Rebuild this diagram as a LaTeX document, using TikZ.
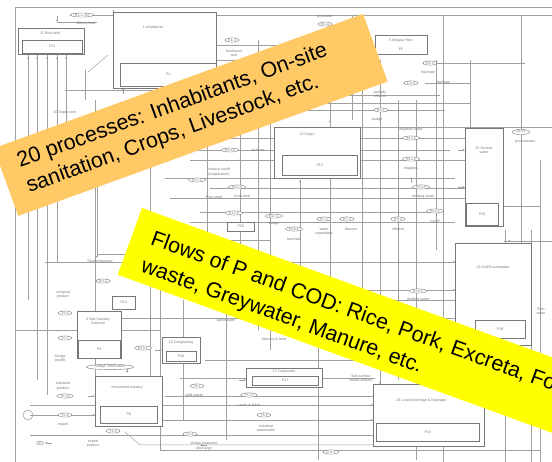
\documentclass[tikz,border=0pt]{standalone}
\usepackage{fontspec}
\setmainfont{Liberation Sans}
\usetikzlibrary{arrows.meta,shapes.geometric}
\definecolor{bannerorange}{RGB}{255,201,102}
\definecolor{banneryellow}{RGB}{255,255,0}
\definecolor{ink}{RGB}{120,120,120}
\definecolor{lightink}{RGB}{160,160,160}
\tikzset{
  ln/.style={draw=lightink, line width=0.5pt},
  arr/.style={ln, -{Stealth[length=2.4pt,width=2.2pt]}},
  proc/.style={draw=ink, line width=0.5pt, fill=white, inner sep=0pt},
  tiny/.style={font=\fontsize{3.6}{4.3}\selectfont, text=ink, inner sep=0.4pt, align=center},
  flow/.style={tiny, draw=ink, ellipse, inner xsep=1.2pt, inner ysep=0.2pt, fill=white},
  bannertext/.style={font=\fontsize{21.5}{26}\selectfont, text=black, inner sep=0pt, anchor=base west, transform shape},
}
\begin{document}
\begin{tikzpicture}[x=1pt,y=-1pt]
\useasboundingbox (0,0) rectangle (552,462);
\clip (0,0) rectangle (552,462);
\fill[white] (0,0) rectangle (552,462);

% ---------- frame ----------
\draw[ln] (15,470) -- (15,7) -- (560,7);
\draw[ln] (70,15) -- (560,15);

% ---------- connector web ----------
\foreach \y/\a/\b in {22/57/97, 90/65/207, 95/200/440, 103/200/470, 110/260/445,
  127/274/552, 138/230/470, 150/190/450, 160/190/465, 178/165/455, 188/210/470,
  198/170/470, 212/200/440, 222/190/455, 240/150/270, 254/97/133, 262/45/455,
  290/345/505, 300/290/455, 318/80/455, 330/15/160, 360/205/440, 378/180/375,
  396/165/375, 405/30/375, 415/30/95, 420/160/375, 435/30/375, 450/160/540,
  63/430/525, 83/425/470, 206/498/540, 241/505/552, 60/215/300, 45/215/372}
  \draw[ln] (\a,\y) -- (\b,\y);
\foreach \x/\a/\b in {28/54/300, 37/54/380, 47/54/395, 57/54/262, 66/54/175,
  85/70/100, 97/187/254, 113/10/80, 207/15/240, 240/100/250, 258/40/330,
  270/120/350, 300/180/270, 330/90/330, 362/55/310, 380/60/440, 398/100/380,
  416/100/460, 436/60/250, 443/15/462, 505/230/462, 521/15/330, 531/230/462,
  540/160/462, 95/100/380, 150/150/380, 160/270/450, 183/300/420, 226/300/440,
  318/300/460, 470/60/128, 352/15/120}
  \draw[ln] (\x,\a) -- (\x,\b);
\draw[ln] (88,72) -- (108,55);
\draw[ln] (125,432) -- (140,445) -- (375,445);
\draw[ln] (33,415) -- (58,415);

% arrowheads
\foreach \x/\y in {28/57, 37/57, 47/57, 57/57, 66/57, 123/88, 211/15, 370/60,
  330/120, 300/180, 470/128, 411/177}
  \draw[arr] (\x,\y+6) -- (\x,\y);
\foreach \x/\y in {57/22, 97/258, 398/392, 380/384, 127/373}
  \draw[arr] (\x,\y-6) -- (\x,\y);
\foreach \x/\y in {465/150, 465/187, 455/290, 455/262, 246/380, 95/396, 121/330, 162/350, 505/206, 511/241, 373/405, 373/420}
  \draw[arr] (\x-7,\y) -- (\x,\y);
\foreach \x/\y in {92/415, 45/443, 200/445}
  \draw[arr] (\x+7,\y) -- (\x,\y);

% ---------- processes ----------
\node[proc, minimum width=66pt, minimum height=26pt, anchor=north west] (p11) at (18,28) {};
\node[proc, minimum width=60pt, minimum height=13pt, anchor=north west] (p11i) at (22,40) {};
\node[tiny] (p11t) at (50,33) {11 Rice field};
\node[tiny] (p11l) at (p11i) {P11};

\node[proc, minimum width=103pt, minimum height=76pt, anchor=north west] (p1) at (113,12) {};
\node[proc, minimum width=96pt, minimum height=23pt, anchor=north west] (p1i) at (120,63) {};
\node[tiny] (p1t) at (153,27) {1 Inhabitants};
\node[tiny] (p1l) at (p1i) {P1};

\node[proc, minimum width=52pt, minimum height=19pt, anchor=north west] (p5) at (375,35) {};
\node[tiny] (p5t) at (401,41) {5 Biogas Plant};
\node[tiny] (p5l) at (401,49) {P5};

\node[proc, minimum width=86pt, minimum height=51pt, anchor=north west] (p12) at (274,127) {};
\node[proc, minimum width=75pt, minimum height=20pt, anchor=north west] (p12i) at (282,155) {};
\node[tiny] (p12t) at (307,135) {12 Crops};
\node[tiny] (p12l) at (p12i) {P12};

\node[proc, minimum width=38pt, minimum height=98pt, anchor=north west] (p15) at (465,128) {};
\node[proc, minimum width=32pt, minimum height=22pt, anchor=north west] (p15i) at (466,203) {};
\node[tiny] (p15t) at (484,150) {15 Surface\\water};
\node[tiny] (p15l) at (p15i) {P15};

\node[proc, minimum width=76pt, minimum height=102pt, anchor=north west] (p19) at (455,243) {};
\node[proc, minimum width=50pt, minimum height=18pt, anchor=north west] (p19i) at (475,320) {};
\node[tiny] (p19t) at (493,267) {19 Soil/Groundwater};
\node[tiny] (p19l) at (p19i) {P19};

\node[proc, minimum width=111pt, minimum height=62pt, anchor=north west] (p18) at (373,384) {};
\node[proc, minimum width=103pt, minimum height=18pt, anchor=north west] (p18i) at (376,423) {};
\node[tiny] (p18t) at (421,401) {18 Local Sewerage \& Drainage};
\node[tiny] (p18l) at (p18i) {P18};

\node[proc, minimum width=76pt, minimum height=19pt, anchor=north west] (p17) at (246,368) {};
\node[proc, minimum width=66pt, minimum height=9pt, anchor=north west] (p17i) at (252,376) {};
\node[tiny] (p17t) at (284,372) {17 Composter};
\node[tiny] (p17l) at (p17i) {P17};

\node[proc, minimum width=67pt, minimum height=50pt, anchor=north west] (p8) at (95,376) {};
\node[proc, minimum width=57pt, minimum height=17pt, anchor=north west] (p8i) at (100,406) {};
\node[tiny] (p8t) at (127,388) {Household industry};
\node[tiny] (p8l) at (p8i) {P8};

\node[proc, minimum width=44pt, minimum height=47pt, anchor=north west] (p4) at (77,311) {};
\node[proc, minimum width=42pt, minimum height=18pt, anchor=north west] (p4i) at (78,340) {};
\node[tiny] (p4t) at (98,321) {4 Sub-Sanitary\\Collector};
\node[tiny] (p4l) at (p4i) {P4};

\node[proc, minimum width=38pt, minimum height=26pt, anchor=north west] (p10) at (162,337) {};
\node[proc, minimum width=30pt, minimum height=10pt, anchor=north west] (p10i) at (166,351) {};
\node[tiny] (p10t) at (181,343) {10 Composting};
\node[tiny] (p10l) at (p10i) {P10};

\node[proc, minimum width=23pt, minimum height=13pt, anchor=north west] (p14) at (112,296) {};
\node[tiny] (p14l) at (p14) {P14};
\node[proc, minimum width=27pt, minimum height=9pt, anchor=north west] (p16) at (227,222) {};
\node[tiny] (p16l) at (p16) {P16};

% ---------- flows ----------
\node[flow] (f1) at (82,15) {R1.1--R1};
\node[tiny] (t1) at (86,23) {Others food};
\node[flow] (f2) at (232,40) {R1.3};
\node[tiny] (t2) at (234,53) {Sunflower\\leaf};
\node[tiny] (t3) at (325,17) {greywater};
\node[flow] (f3) at (325,24) {R1.4};
\node[flow] (f4) at (430,63) {R5.3};
\node[tiny] (t4) at (428,72) {leachate};
\node[flow] (f5) at (411,83) {C5.4};
\node[tiny] (t5) at (443,83) {drainage};
\node[tiny] (t6) at (380,94) {partially\\effluent};
\node[flow] (f6) at (381,110) {R4.1};
\node[tiny] (t7) at (377,120) {sludge};
\node[tiny] (t8) at (411,130) {irrigation water};
\node[flow] (f7) at (411,138) {R12.1};
\node[flow] (f8) at (521,132) {Q14.1};
\node[tiny] (t9) at (525,142) {groundwater};
\node[flow] (f9) at (411,159) {R14.2};
\node[tiny] (t10) at (411,169) {irrigation};
\node[flow] (f10) at (421,187) {R14.3};
\node[tiny] (t11) at (423,197) {drinking water};
\node[flow] (f11) at (435,211) {R15.1};
\node[tiny] (t12) at (435,221) {runoff};
\node[flow] (f12) at (398,219) {R9.4};
\node[tiny] (t13) at (398,229) {effluent};
\node[flow] (f13) at (418,291) {R19.1};
\node[tiny] (t14) at (418,300) {drinking water};
\node[flow] (f14) at (252,120) {R3.1};
\node[flow] (f15) at (230,150) {R14.1};
\node[tiny] (t15) at (258,150) {fertilizer};
\node[tiny] (t16) at (219,172) {surface runoff\\(evaporation)};
\node[flow] (f16) at (197,180) {R12.2};
\node[flow] (f17) at (237,187) {R12.4};
\node[tiny] (t17) at (214,197) {Rice seed};
\node[tiny] (t18) at (242,197) {Crop feed};
\node[flow] (f18) at (234,213) {R12.5};
\node[flow] (f19) at (274,216) {R17.1};
\node[tiny] (t19) at (274,224) {sludge};
\node[flow] (f20) at (294,229) {R16.1};
\node[tiny] (t20) at (294,239) {leachate};
\node[flow] (f21) at (324,219) {R7.2};
\node[flow] (f22) at (347,219) {R7.3};
\node[tiny] (t21) at (324,232) {water\\vegetables};
\node[tiny] (t22) at (351,229) {Manure};
\node[tiny] (t23) at (65,113) {20 Septic tank};
\node[tiny] (t24) at (80,190) {Septic sludge};
\node[tiny] (t25) at (100,262) {Sludge/septage};
\node[flow] (f23) at (103,281) {R4.2};
\node[tiny] (t26) at (63,295) {compost\\product};
\node[flow] (f24) at (65,313) {T5.5};
\node[flow] (f25) at (65,338) {T5.7};
\node[tiny] (t27) at (60,358) {Sludge\\landfill};
\node[flow] (f26) at (110,367) {Sludge, solid waste};
\node[flow] (f27) at (143,348) {R10.1};
\node[tiny] (t28) at (63,386) {industrial\\product};
\node[flow] (f28) at (65,396) {T6.10};
\node[flow] (f29) at (65,415) {T5.4};
\node[tiny] (t29) at (63,425) {import};
\draw[draw=lightink, line width=0.6pt] (28,415) circle (5pt);
\node[flow] (f30) at (40,443) {E};
\node[tiny] (t30) at (93,444) {export\\product};
\node[flow] (f31) at (113,431) {T4.2};
\node[flow] (f32) at (197,386) {T8.1};
\node[tiny] (t31) at (194,395) {solid waste};
\node[flow] (f33) at (249,395) {T8.17};
\node[tiny] (t32) at (249,405) {Lands \& fields};
\node[flow] (f34) at (264,415) {T8.4};
\node[tiny] (t33) at (266,428) {industrial\\wastewater};
\node[flow] (f35) at (190,434) {T5.3};
\node[tiny] (t34) at (204,446) {sludge treatment\\discharge};
\node[flow] (f36) at (331,452) {D.9.2};
\node[tiny] (t35) at (226,320) {wastewater};
\node[tiny] (t36) at (274,339) {Manure \& feed};
\node[tiny] (t37) at (361,378) {Sub-surface\\Waste effluent};
\node[tiny] (t38) at (541,311) {Rain\\water};

% ---------- banners ----------
\begin{scope}[shift={(-6.3,148.3)}, rotate=20]
  \fill[bannerorange] (0,0) rectangle (393,72);
  \node[bannertext] (ob1) at (18,27.5) {20 processes: Inhabitants, On-site};
  \node[bannertext] (ob2) at (18,54) {sanitation, Crops, Livestock, etc.};
\end{scope}
\begin{scope}[shift={(142,208)}, rotate=-20]
  \fill[banneryellow] (0,0) rectangle (620,71);
  \node[bannertext] (yb1) at (19.5,31.5) {Flows of P and COD: Rice, Pork, Excreta, Food};
  \node[bannertext] (yb2) at (19.5,60) {waste, Greywater, Manure, etc.};
\end{scope}
\end{tikzpicture}
\end{document}
